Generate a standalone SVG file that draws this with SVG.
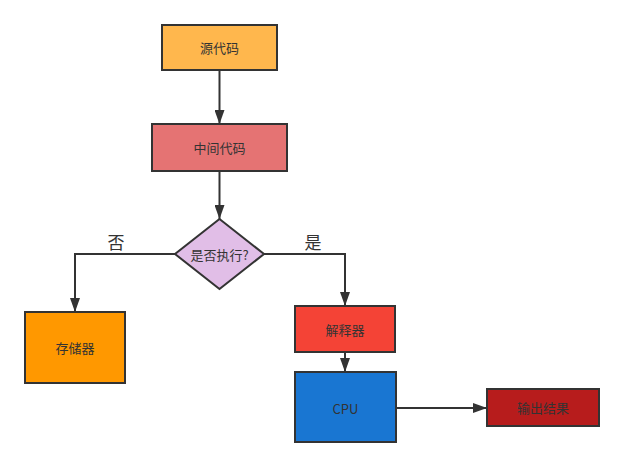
<svg xmlns="http://www.w3.org/2000/svg" width="624" height="468" viewBox="0 0 624 468">
<style>
.n{stroke:#333;stroke-width:2}
.t{font-family:"Noto Sans CJK SC","Liberation Sans",sans-serif;font-size:13px;fill:#333;text-anchor:middle;dominant-baseline:central}
.l{font-family:"Noto Sans CJK SC","Liberation Sans",sans-serif;font-size:17px;fill:#333;text-anchor:middle;dominant-baseline:central}
.c{fill:none;stroke:#333;stroke-width:2}
</style>
<defs>
<marker id="a" markerWidth="14" markerHeight="10" refX="14" refY="5" orient="auto" markerUnits="userSpaceOnUse">
<path d="M0,0 L14,5 L0,10 Z" fill="#333"/>
</marker>
</defs>
<rect width="624" height="468" fill="#fff"/>
<g id="connectors">
<path class="c" d="M219.5,70 V124" marker-end="url(#a)"/>
<path class="c" d="M219.5,171 V219" marker-end="url(#a)"/>
<path class="c" d="M175,254 H75 V312" marker-end="url(#a)"/>
<path class="c" d="M264,254 H345 V306" marker-end="url(#a)"/>
<path class="c" d="M345,352 V372" marker-end="url(#a)"/>
<path class="c" d="M396,408 H487" marker-end="url(#a)"/>
<text class="l" x="116" y="241">否</text>
<text class="l" x="313" y="241">是</text>
</g>
<g id="source">
<rect class="n" x="162" y="25" width="115" height="45" fill="#FFB74D"/>
<text class="t" x="219.5" y="47.5">源代码</text>
</g>
<g id="intermediate">
<rect class="n" x="152" y="124" width="135" height="47" fill="#E57373"/>
<text class="t" x="219.5" y="147.5">中间代码</text>
</g>
<g id="decision">
<polygon class="n" points="219.5,219 264,254 219.5,289 175,254" fill="#E1BEE7"/>
<text class="t" x="219.5" y="254">是否执行?</text>
</g>
<g id="storage">
<rect class="n" x="25" y="312" width="100" height="71" fill="#FF9800"/>
<text class="t" x="75" y="347.5">存储器</text>
</g>
<g id="interpreter">
<rect class="n" x="295" y="306" width="100" height="46" fill="#F44336"/>
<text class="t" x="345" y="329">解释器</text>
</g>
<g id="cpu">
<rect class="n" x="295" y="372" width="101" height="70" fill="#1976D2"/>
<text class="t" x="345.5" y="408">CPU</text>
</g>
<g id="output">
<rect class="n" x="487" y="389" width="112" height="37" fill="#B71C1C"/>
<text class="t" x="543" y="407.5">输出结果</text>
</g>
</svg>
